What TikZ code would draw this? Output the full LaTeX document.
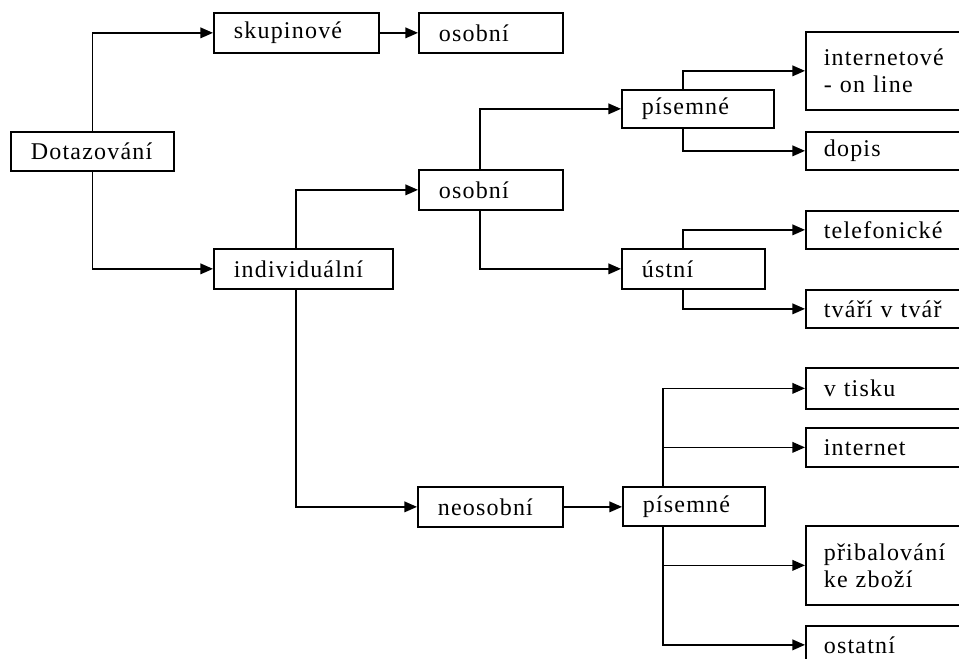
\documentclass[tikz,border=0pt]{standalone}
\usepackage{fontspec}
\setmainfont[LetterSpace=5]{Liberation Serif}
\usetikzlibrary{arrows.meta}
\tikzset{
  box/.style={draw, line width=1.3pt, anchor=north west, align=left,
    inner xsep=15pt, inner ysep=0pt, minimum height=30pt,
    font=\fontsize{18}{20.25}\selectfont},
  leaf/.style={box, inner xsep=13.5pt, text width=111.75pt},
  link/.style={line width=1.2pt, -{Triangle[length=9.5pt,width=8pt]}},
}
\begin{document}
\begin{tikzpicture}[x=0.75pt, y=-0.75pt]
  \useasboundingbox (0,0) rectangle (959,659);
  % first levels
  \node[box, text width=92.25pt, minimum height=29.25pt] (dot) at (10,131) {Dotazování};
  \node[box, text width=93.75pt] (skup) at (213,12) {skupinové};
  \node[box, text width=78pt] (osob1) at (418,12) {osobní};
  \node[box, text width=104.25pt] (indiv) at (213,248) {individuální};
  \node[box, text width=78pt] (osob2) at (418,169) {osobní};
  \node[box, text width=78.75pt] (neos) at (417,486) {neosobní};
  \node[box, text width=84pt, minimum height=28.5pt] (pis1) at (621,89) {písemné};
  \node[box, text width=77.25pt] (ustni) at (621,248) {ústní};
  \node[box, text width=76.5pt, minimum height=29.25pt] (pis2) at (622,486) {písemné};
  % right column
  \node[leaf, minimum height=58.5pt] (inet) at (805,31) {internetové\\- on line};
  \node[leaf, minimum height=28.5pt] (dopis) at (805,131) {dopis};
  \node[leaf, minimum height=28.5pt] (tel) at (805,210) {telefonické};
  \node[leaf, minimum height=28.5pt] (tvar) at (805,289) {tváří v tvář};
  \node[leaf, minimum height=30.75pt] (tisk) at (805,367) {v tisku};
  \node[leaf, minimum height=29.25pt] (net) at (805,427) {internet};
  \node[leaf, minimum height=59.25pt] (prib) at (805,525) {přibalování\\ke zboží};
  \node[leaf, minimum height=28.5pt] (ost) at (805,625) {ostatní};

  \draw[link] (dot.north) |- (skup.west);
  \draw[link] (dot.south) |- (indiv.west);
  \draw[link] (skup.east) -- (skup.east -| osob1.west);
  \draw[link] ([xshift=62.25pt]indiv.north west) |- (osob2.west);
  \draw[link] ([xshift=62.25pt]indiv.south west) |- (neos.west);
  \draw[link] ([xshift=46.5pt]osob2.north west) |- (pis1.west);
  \draw[link] ([xshift=46.5pt]osob2.south west) |- (ustni.west);
  \draw[link] ([xshift=46.5pt]pis1.north west) |- (inet.west);
  \draw[link] ([xshift=46.5pt]pis1.south west) |- (dopis.west);
  \draw[link] ([xshift=46.5pt]ustni.north west) |- (tel.west);
  \draw[link] ([xshift=46.5pt]ustni.south west) |- (tvar.west);
  \draw[link] (neos.east) -- (neos.east -| pis2.west);
  \foreach \t in {tisk,net}
    \draw[link] ([xshift=30.75pt]pis2.north west) |- (\t.west);
  \foreach \t in {prib,ost}
    \draw[link] ([xshift=30.75pt]pis2.south west) |- (\t.west);
\end{tikzpicture}
\end{document}
